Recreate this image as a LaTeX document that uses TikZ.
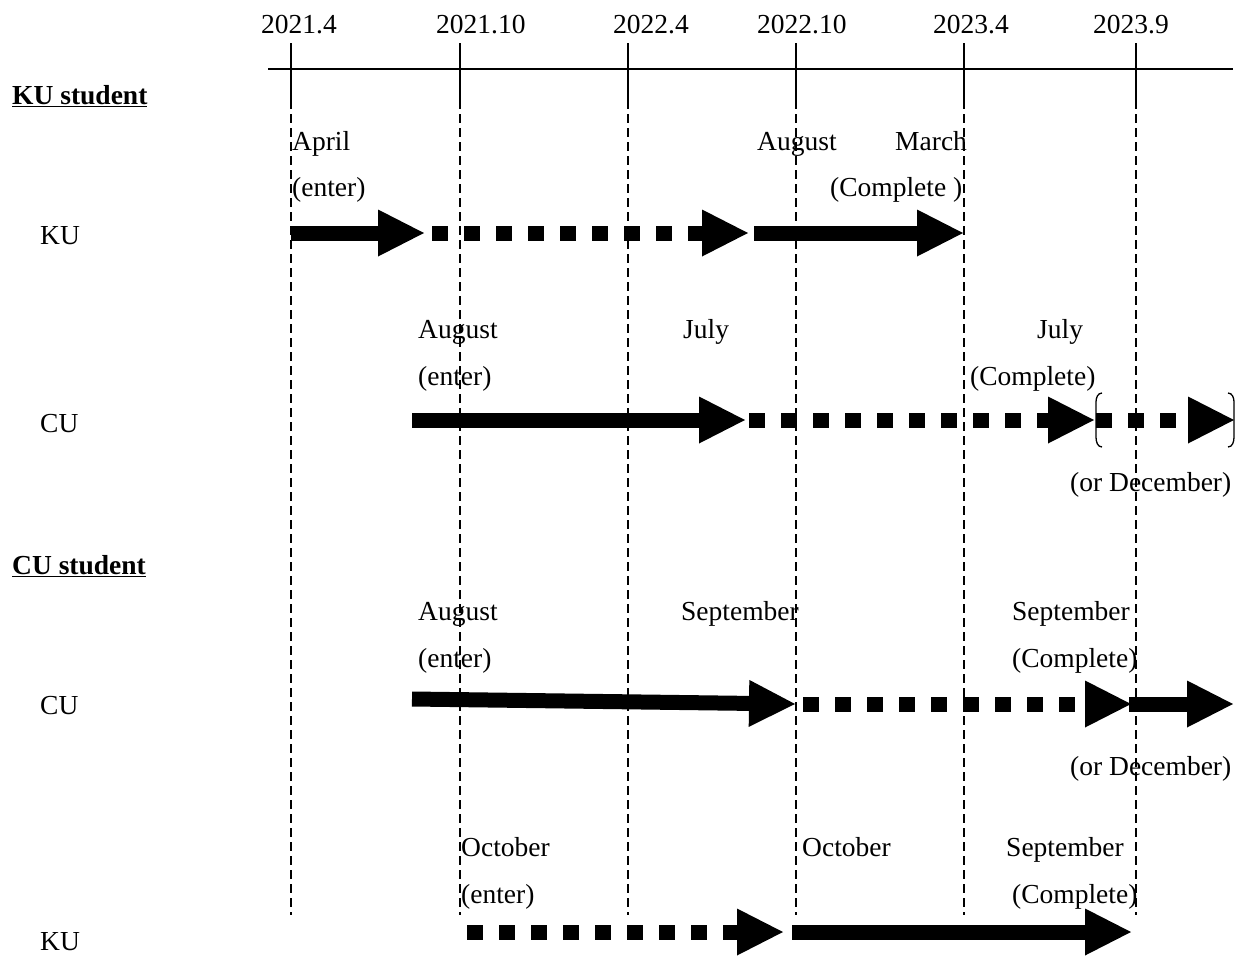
\documentclass[tikz,border=0pt]{standalone}
\usepackage{fontspec}
\setmainfont{Liberation Serif}
\usetikzlibrary{arrows.meta}
\tikzset{
    solid-arrow/.style = {line width=15pt, -{Triangle[length=46pt,width=47pt,line width=0pt]}},
    dotted-arrow/.style = {solid-arrow, dash pattern=on 15.5pt off 16.5pt},
    guide-line/.style = {line width=1.3pt, dash pattern=on 9pt off 5pt},
    tick-line/.style = {line width=1.4pt},
    month-label/.style = {anchor=base west, inner sep=0pt, font=\fontsize{27.5}{33}\selectfont},
    group-label/.style = {month-label, font=\fontsize{27.5}{33}\selectfont\bfseries},
}

\begin{document}
\begin{tikzpicture}[x=1pt,y=-1pt]
\useasboundingbox (0,0) rectangle (1251,956);

\draw[tick-line] (268,69) -- (1233,69);
\foreach \tx/\lx/\yr in {291/261/2021.4, 460/436/2021.10, 628/613/2022.4, 796/757/2022.10, 964/933/2023.4, 1136/1093/2023.9}{
    \node[month-label] (yr-\tx) at (\lx,33) {\yr};
    \draw[tick-line] (\tx,43) -- (\tx,100);
    \draw[guide-line] (\tx,100) -- (\tx,915);
}

\node[group-label] (ku-student) at (12,104) {\underline{KU student}};
\node[month-label] (ku1-row) at (40,244) {KU};
\node[month-label] (ku1-m1) at (292,150) {April};
\node[month-label] (ku1-e1) at (292,196) {(enter)};
\node[month-label] (ku1-m2) at (757,150) {August};
\node[month-label] (ku1-m3) at (895,150) {March};
\node[month-label] (ku1-e3) at (830,196) {(Complete )};
\coordinate (ku1-a) at (291,233);
\coordinate (ku1-b) at (424,233);
\coordinate (ku1-c) at (432,233);
\coordinate (ku1-d) at (748,233);
\coordinate (ku1-e) at (754,233);
\coordinate (ku1-f) at (963,233);
\draw[solid-arrow] (ku1-a) -- (ku1-b);
\draw[dotted-arrow] (ku1-c) -- (ku1-d);
\draw[solid-arrow] (ku1-e) -- (ku1-f);

\node[month-label] (cu1-row) at (40,432) {CU};
\node[month-label] (cu1-m1) at (418,338) {August};
\node[month-label] (cu1-e1) at (418,385) {(enter)};
\node[month-label] (cu1-m2) at (683,338) {July};
\node[month-label] (cu1-m3) at (1037,338) {July};
\node[month-label] (cu1-e3) at (970,385) {(Complete)};
\node[month-label] (cu1-or) at (1070,491) {(or December)};
\coordinate (cu1-a) at (412,420);
\coordinate (cu1-b) at (745,420);
\coordinate (cu1-c) at (749,420);
\coordinate (cu1-d) at (1094,420);
\coordinate (cu1-e) at (1096,420);
\coordinate (cu1-f) at (1234,420);
\draw[solid-arrow] (cu1-a) -- (cu1-b);
\draw[dotted-arrow] (cu1-c) -- (cu1-d);
\draw[dotted-arrow] (cu1-e) -- (cu1-f);
\draw[line width=1.3pt] (1102,393) to[out=180,in=90] (1096,402) -- (1096,437) to[out=-90,in=180] (1102,447);
\draw[line width=1.3pt] (1228,393) to[out=0,in=90] (1234,402) -- (1234,437) to[out=-90,in=0] (1228,447);

\node[group-label] (cu-student) at (12,574) {\underline{CU student}};
\node[month-label] (cu2-row) at (40,714) {CU};
\node[month-label] (cu2-m1) at (418,620) {August};
\node[month-label] (cu2-e1) at (418,667) {(enter)};
\node[month-label] (cu2-m2) at (681,620) {September};
\node[month-label] (cu2-m3) at (1012,620) {September};
\node[month-label] (cu2-e3) at (1012,667) {(Complete)};
\node[month-label] (cu2-or) at (1070,775) {(or December)};
\coordinate (cu2-a) at (412,699);
\coordinate (cu2-b) at (795,704);
\coordinate (cu2-c) at (803,704);
\coordinate (cu2-d) at (1131,704);
\coordinate (cu2-e) at (1129,704);
\coordinate (cu2-f) at (1233,704);
\draw[solid-arrow] (cu2-a) -- (cu2-b);
\draw[dotted-arrow] (cu2-c) -- (cu2-d);
\draw[solid-arrow] (cu2-e) -- (cu2-f);

\node[month-label] (ku2-row) at (40,950) {KU};
\node[month-label] (ku2-m1) at (461,856) {October};
\node[month-label] (ku2-e1) at (461,903) {(enter)};
\node[month-label] (ku2-m2) at (802,856) {October};
\node[month-label] (ku2-m3) at (1006,856) {September};
\node[month-label] (ku2-e3) at (1012,903) {(Complete)};
\coordinate (ku2-a) at (467,932);
\coordinate (ku2-b) at (783,932);
\coordinate (ku2-c) at (792,932);
\coordinate (ku2-d) at (1131,932);
\draw[dotted-arrow] (ku2-a) -- (ku2-b);
\draw[solid-arrow] (ku2-c) -- (ku2-d);
\end{tikzpicture}
\end{document}
